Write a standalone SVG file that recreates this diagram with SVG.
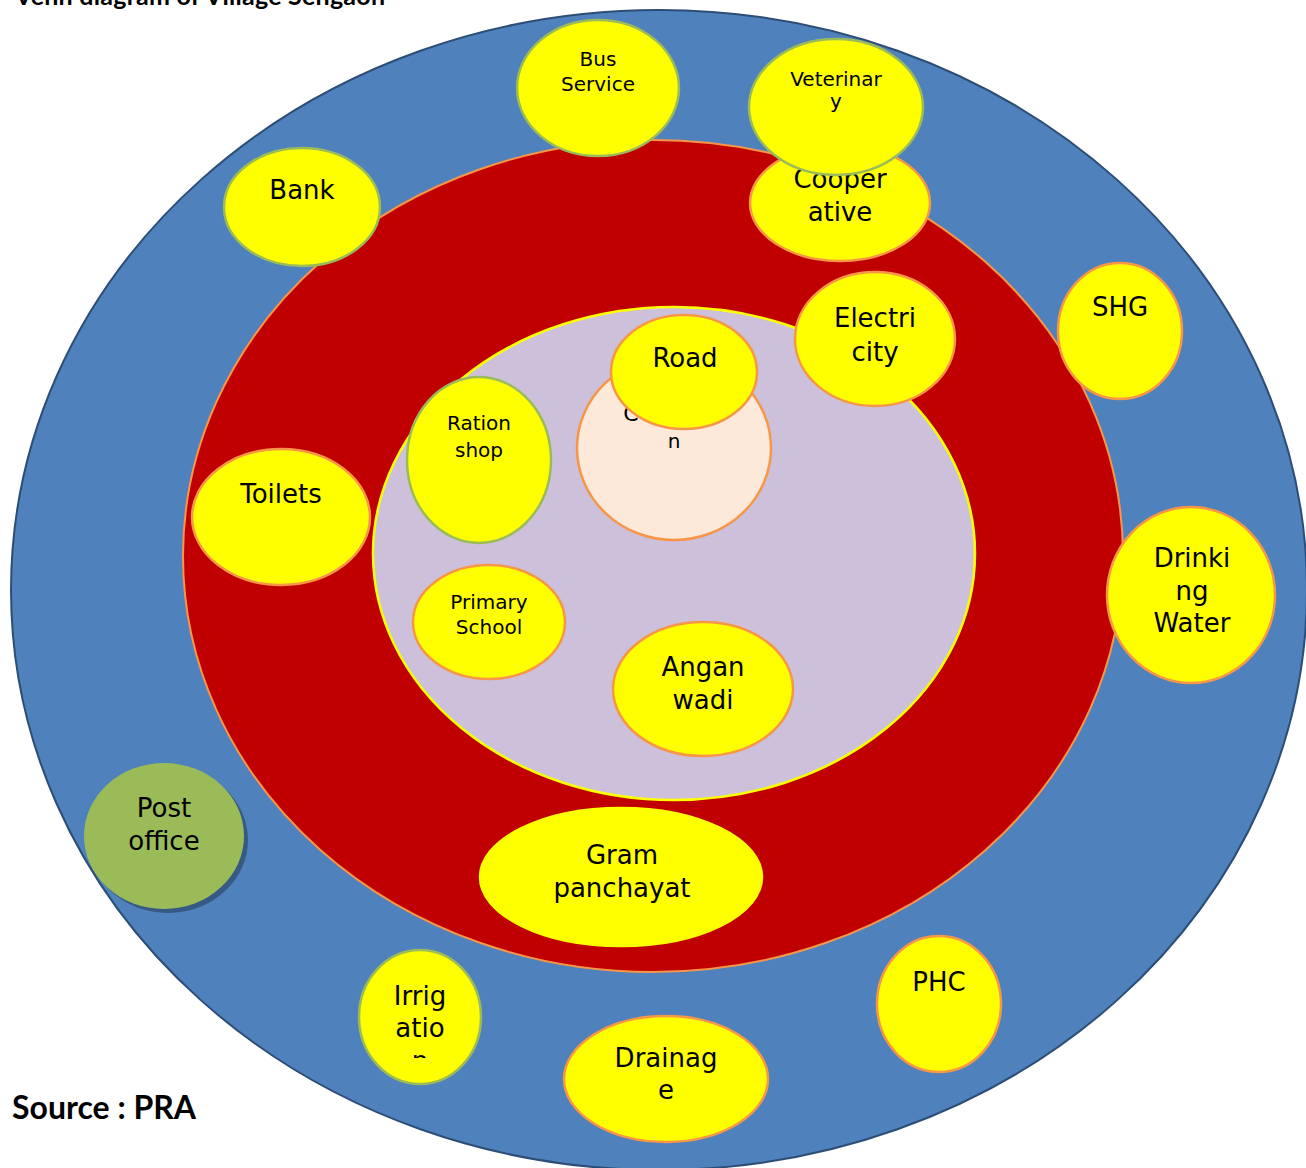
<svg xmlns="http://www.w3.org/2000/svg" width="1306" height="1168" viewBox="0 0 1306 1168">
<defs>
<style>
.y{fill:#FFFF00;stroke-width:2.5}
.o{stroke:#F79646}
.g{stroke:#9BBB59}
text{font-family:"DejaVu Sans","Liberation Sans",sans-serif;fill:#000;text-anchor:middle}
.l{font-size:26px}
.s{font-size:20px}
.h{font-family:Lato,"Open Sans",sans-serif;font-weight:bold;text-anchor:start}
</style>
<clipPath id="clipIrr"><rect x="340" y="940" width="170" height="118"/></clipPath>
</defs>
<rect width="1306" height="1168" fill="#FFFFFF"/>
<text class="h" x="15" y="5" font-size="25" textLength="370">Venn diagram of Village Sengaon</text>
<g id="rings">
<ellipse cx="659" cy="590" rx="648" ry="580" fill="#4F81BD" stroke="#2C4D75" stroke-width="2"/>
<ellipse cx="653" cy="556" rx="470" ry="416" fill="#C00000" stroke="#F79646" stroke-width="2"/>
<ellipse cx="674" cy="553.5" rx="301" ry="246.5" fill="#CCC0DA" stroke="#FFFF00" stroke-width="2.5"/>
</g>
<g id="center">
<ellipse cx="674" cy="448" rx="97" ry="92" fill="#FDE9D9" stroke="#F79646" stroke-width="2.5"/>
<text x="631" y="421" style="font-size:22px">C</text>
<text class="s" x="674" y="448">n</text>
</g>
<g id="connectors"/>
<g id="bus">
<ellipse class="y g" cx="598" cy="88" rx="81" ry="68"/>
<text class="s" x="598" y="66">Bus</text>
<text class="s" x="598" y="91">Service</text>
</g>
<g id="cooperative">
<ellipse class="y o" cx="840" cy="203" rx="90" ry="58"/>
<text class="l" x="840" y="188">Cooper</text>
<text class="l" x="840" y="221">ative</text>
</g>
<g id="veterinary">
<ellipse class="y g" cx="836" cy="107" rx="87" ry="68"/>
<text class="s" x="836" y="86">Veterinar</text>
<text class="s" x="836" y="108">y</text>
</g>
<g id="bank">
<ellipse class="y g" cx="302" cy="207" rx="78" ry="59"/>
<text class="l" x="302" y="199">Bank</text>
</g>
<g id="shg">
<ellipse class="y o" cx="1120" cy="331" rx="62" ry="68"/>
<text class="l" x="1120" y="316">SHG</text>
</g>
<g id="electricity">
<ellipse class="y o" cx="875" cy="339" rx="80" ry="67"/>
<text class="l" x="875" y="327">Electri</text>
<text class="l" x="875" y="361">city</text>
</g>
<g id="road">
<ellipse class="y o" cx="684" cy="372" rx="73" ry="57"/>
<text class="l" x="685" y="367">Road</text>
</g>
<g id="ration">
<ellipse class="y g" cx="479" cy="460" rx="72" ry="83"/>
<text class="s" x="479" y="430">Ration</text>
<text class="s" x="479" y="457">shop</text>
</g>
<g id="toilets">
<ellipse class="y o" cx="281" cy="517" rx="89" ry="68"/>
<text class="l" x="281" y="503">Toilets</text>
</g>
<g id="school">
<ellipse class="y o" cx="489" cy="622" rx="76" ry="57"/>
<text class="s" x="489" y="609">Primary</text>
<text class="s" x="489" y="634">School</text>
</g>
<g id="anganwadi">
<ellipse class="y o" cx="703" cy="689" rx="90" ry="67"/>
<text class="l" x="703" y="676">Angan</text>
<text class="l" x="703" y="709">wadi</text>
</g>
<g id="water">
<ellipse class="y o" cx="1191" cy="595" rx="84" ry="88"/>
<text class="l" x="1192" y="567">Drinki</text>
<text class="l" x="1192" y="600">ng</text>
<text class="l" x="1192" y="632">Water</text>
</g>
<g id="post">
<ellipse cx="168" cy="840" rx="80" ry="73" fill="#000" fill-opacity="0.3"/>
<ellipse cx="164" cy="836" rx="80" ry="73" fill="#9BBB59"/>
<text class="l" x="164" y="817">Post</text>
<text class="l" x="164" y="850">office</text>
</g>
<g id="gram">
<ellipse class="y" cx="621" cy="877" rx="141" ry="69" stroke="#FFFF00"/>
<text class="l" x="622" y="864">Gram</text>
<text class="l" x="622" y="897">panchayat</text>
</g>
<g id="irrigation">
<ellipse class="y g" cx="420" cy="1017" rx="61" ry="67"/>
<g clip-path="url(#clipIrr)">
<text class="l" x="420" y="1005">Irrig</text>
<text class="l" x="420" y="1037">atio</text>
<text class="l" x="420" y="1070">n</text>
</g>
</g>
<g id="phc">
<ellipse class="y o" cx="939" cy="1004" rx="62" ry="68"/>
<text class="l" x="939" y="991">PHC</text>
</g>
<g id="drainage">
<ellipse class="y o" cx="666" cy="1079" rx="102" ry="63"/>
<text class="l" x="666" y="1067">Drainag</text>
<text class="l" x="666" y="1099">e</text>
</g>
<text class="h" x="12" y="1119" font-size="32">Source : PRA</text>
</svg>
